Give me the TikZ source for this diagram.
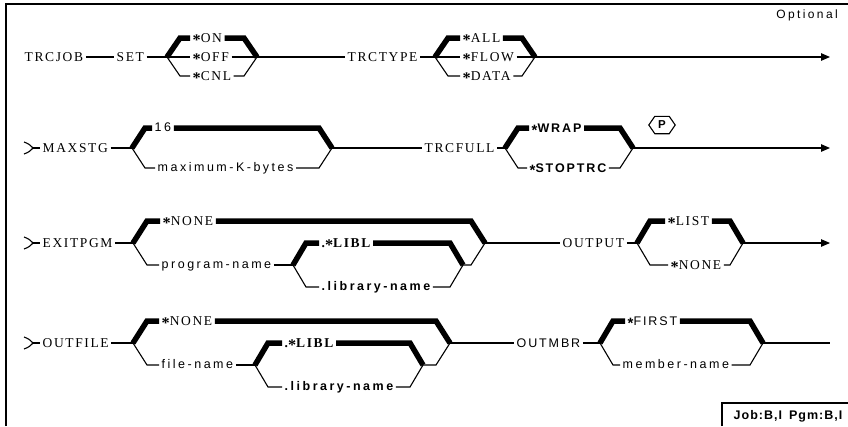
\documentclass[tikz,border=0pt]{standalone}
\usepackage{fontspec}
\usetikzlibrary{arrows.meta}
\newfontfamily\kwf[LetterSpace=12]{Liberation Serif}
\newfontfamily\varf[LetterSpace=20]{Liberation Sans}
\newfontfamily\capsf[LetterSpace=15]{Liberation Sans}
\newfontfamily\labf[LetterSpace=8]{Liberation Sans}
\newcommand\st{\raisebox{-3pt}{\scalebox{1.2}{\bfseries *}}}
\newcommand\ctmark[1]{%
  \draw[ln] ([shift={(-9,-6)}]#1) .. controls ([shift={(-4,-4)}]#1) .. (#1)
            .. controls ([shift={(-4,4)}]#1) .. ([shift={(-9,6)}]#1);}
\begin{document}
\begin{tikzpicture}[x=1pt,y=-1pt,
  kw/.style={anchor=west,inner xsep=2.5pt,inner ysep=0pt,text height=9pt,text depth=0pt,font=\kwf\fontsize{13.5}{15}\selectfont},
  kwb/.style={kw,font=\kwf\bfseries\fontsize{13.5}{15}\selectfont},
  kws/.style={kw,font=\capsf\fontsize{12.5}{15}\selectfont},
  kwsb/.style={kw,font=\capsf\bfseries\fontsize{12.5}{15}\selectfont},
  var/.style={anchor=west,inner xsep=2.5pt,inner ysep=0pt,text height=6.8pt,text depth=0pt,font=\varf\fontsize{12.5}{15}\selectfont},
  varb/.style={var,font=\varf\bfseries\fontsize{12.5}{15}\selectfont},
  ln/.style={line width=1.1pt},
  thk/.style={line width=5.5pt},
  frame/.style={line width=1.4pt},
  tip/.style={-{Triangle[length=9pt,width=7.5pt]}},
]
\useasboundingbox (0,0) rectangle (848,426);
\draw[frame] (6,426) -- (6,4) -- (848,4);
\node[anchor=east,inner sep=0pt,font=\varf\fontsize{12}{14}\selectfont] (optional) at (838,15) {Optional};
\draw[frame] (722,426) -- (722,403) -- (848,403);
\node[inner sep=0pt,font=\labf\bfseries\fontsize{12.5}{14}\selectfont] (jobpgm) at (788,416) {Job:B,I\hspace{7pt}Pgm:B,I};

% ---------------- Row 1
\node[kw] (trcjob) at (22,57) {TRCJOB};
\node[kw] (set) at (114,57) {SET};
\node[kw] (on) at (190,38) {\st ON};
\node[kw] (off) at (190,57) {\st OFF};
\node[kw] (cnl) at (190,76) {\st CNL};
\coordinate (setL) at (167,57);
\coordinate (setR) at (257,57);
\node[kw] (trctype) at (345,57) {TRCTYPE};
\node[kw] (all) at (460,38) {\st ALL};
\node[kw] (flow) at (460,57) {\st FLOW};
\node[kw] (data) at (460,76) {\st DATA};
\coordinate (typL) at (435,57);
\coordinate (typR) at (535,57);
\coordinate (end1) at (830,57);

\draw[ln] (trcjob.east) -- (set.west);
\draw[ln] (set.east) -- (setL) -- (off.west);
\draw[ln] (off.east) -- (setR);
\draw[ln] (setL) -- ++(13,19) -- (cnl.west);
\draw[ln] (setR) -- ++(-13,19) -- (cnl.east);
\draw[thk] (setL) -- ++(13,-19) -- (on.west);
\draw[thk] (setR) -- ++(-13,-19) -- (on.east);
\draw[ln] (setR) -- (trctype.west);
\draw[ln] (trctype.east) -- (typL) -- (flow.west);
\draw[ln] (flow.east) -- (typR);
\draw[ln] (typL) -- ++(13,19) -- (data.west);
\draw[ln] (typR) -- ++(-13,19) -- (data.east);
\draw[thk] (typL) -- ++(13,-19) -- (all.west);
\draw[thk] (typR) -- ++(-13,-19) -- (all.east);
\draw[ln,tip] (typR) -- (end1);

% ---------------- Row 2
\coordinate (c2) at (33,148);
\ctmark{c2}
\node[kw] (maxstg) at (40,148) {MAXSTG};
\node[var] (n16) at (152,128) {16};
\node[var] (maxk) at (155,168) {maximum-K-bytes};
\coordinate (maxL) at (132,148);
\coordinate (maxR) at (332,148);
\node[kw] (trcfull) at (422,148) {TRCFULL};
\node[kwsb] (wrap) at (529,128) {\st WRAP};
\node[kwsb] (stop) at (527,168) {\st STOPTRC};
\coordinate (fullL) at (505,148);
\coordinate (fullR) at (633,148);
\node[inner sep=0pt,minimum width=14pt,minimum height=17pt,font=\capsf\bfseries\fontsize{11.5}{12}\selectfont] (p) at (662,125) {P};
\coordinate (end2) at (830,148);

\draw[ln] (c2) -- (maxstg.west);
\draw[ln] (maxstg.east) -- (maxL);
\draw[thk] (maxL) -- ++(13,-20) -- (n16.west);
\draw[thk] (maxR) -- ++(-13,-20) -- (n16.east);
\draw[ln] (maxL) -- ++(13,20) -- (maxk.west);
\draw[ln] (maxR) -- ++(-13,20) -- (maxk.east);
\draw[ln] (maxR) -- (trcfull.west);
\draw[ln] (trcfull.east) -- (fullL);
\draw[thk] (fullL) -- ++(13,-20) -- (wrap.west);
\draw[thk] (fullR) -- ++(-13,-20) -- (wrap.east);
\draw[ln] (fullL) -- ++(13,20) -- (stop.west);
\draw[ln] (fullR) -- ++(-13,20) -- (stop.east);
\draw[line width=1.1pt] ([xshift=-6pt]p.west) -- (p.north west) -- (p.north east) -- ([xshift=6pt]p.east) -- (p.south east) -- (p.south west) -- cycle;
\draw[ln,tip] (fullR) -- (end2);

% ---------------- Row 3
\coordinate (c3) at (33,243);
\ctmark{c3}
\node[kw] (exitpgm) at (40,243) {EXITPGM};
\node[kw] (none3) at (160,221) {\st NONE};
\node[var] (prog) at (159,265) {program-name};
\coordinate (exL) at (133,243);
\coordinate (exR) at (485,243);
\node[kwb] (libl3) at (319,243) {.\st LIBL};
\node[varb] (lib3) at (319,287) {.library-name};
\coordinate (pnL) at (293,265);
\coordinate (pnR) at (463,265);
\node[kw] (output) at (560,243) {OUTPUT};
\node[kw] (list) at (665,221) {\st LIST};
\node[kw] (none3b) at (668,265) {\st NONE};
\coordinate (outL) at (637,243);
\coordinate (outR) at (743,243);
\coordinate (end3) at (830,243);

\draw[ln] (c3) -- (exitpgm.west);
\draw[ln] (exitpgm.east) -- (exL);
\draw[thk] (exL) -- ++(14,-22) -- (none3.west);
\draw[thk] (exR) -- ++(-14,-22) -- (none3.east);
\draw[ln] (exL) -- ++(14,22) -- (prog.west);
\draw[ln] (exR) -- ++(-14,22) -- (pnR);
\draw[ln] (prog.east) -- (pnL);
\draw[thk] (pnL) -- ++(13,-22) -- (libl3.west);
\draw[thk] (pnR) -- ++(-13,-22) -- (libl3.east);
\draw[ln] (pnL) -- ++(13,22) -- (lib3.west);
\draw[ln] (pnR) -- ++(-13,22) -- (lib3.east);
\draw[ln] (exR) -- (output.west);
\draw[ln] (output.east) -- (outL);
\draw[thk] (outL) -- ++(13,-22) -- (list.west);
\draw[thk] (outR) -- ++(-13,-22) -- (list.east);
\draw[ln] (outL) -- ++(13,22) -- (none3b.west);
\draw[ln] (outR) -- ++(-13,22) -- (none3b.east);
\draw[ln,tip] (outR) -- (end3);

% ---------------- Row 4
\coordinate (c4) at (33,343);
\ctmark{c4}
\node[kw] (outfile) at (40,343) {OUTFILE};
\node[kw] (none4) at (159,321) {\st NONE};
\node[var] (fname) at (159,365) {file-name};
\coordinate (ofL) at (133,343);
\coordinate (ofR) at (450,343);
\node[kwb] (libl4) at (282,343) {.\st LIBL};
\node[varb] (lib4) at (282,387) {.library-name};
\coordinate (fnL) at (255,365);
\coordinate (fnR) at (423,365);
\node[kws] (outmbr) at (514,343) {OUTMBR};
\node[kws] (first) at (625,321) {\st FIRST};
\node[var] (mname) at (620,365) {member-name};
\coordinate (mbL) at (600,343);
\coordinate (mbR) at (763,343);
\coordinate (end4) at (830,343);

\draw[ln] (c4) -- (outfile.west);
\draw[ln] (outfile.east) -- (ofL);
\draw[thk] (ofL) -- ++(14,-22) -- (none4.west);
\draw[thk] (ofR) -- ++(-14,-22) -- (none4.east);
\draw[ln] (ofL) -- ++(14,22) -- (fname.west);
\draw[ln] (ofR) -- ++(-14,22) -- (fnR);
\draw[ln] (fname.east) -- (fnL);
\draw[thk] (fnL) -- ++(13,-22) -- (libl4.west);
\draw[thk] (fnR) -- ++(-13,-22) -- (libl4.east);
\draw[ln] (fnL) -- ++(13,22) -- (lib4.west);
\draw[ln] (fnR) -- ++(-13,22) -- (lib4.east);
\draw[ln] (ofR) -- (outmbr.west);
\draw[ln] (outmbr.east) -- (mbL);
\draw[thk] (mbL) -- ++(13,-22) -- (first.west);
\draw[thk] (mbR) -- ++(-13,-22) -- (first.east);
\draw[ln] (mbL) -- ++(13,22) -- (mname.west);
\draw[ln] (mbR) -- ++(-13,22) -- (mname.east);
\draw[ln] (mbR) -- (end4);
\end{tikzpicture}
\end{document}
